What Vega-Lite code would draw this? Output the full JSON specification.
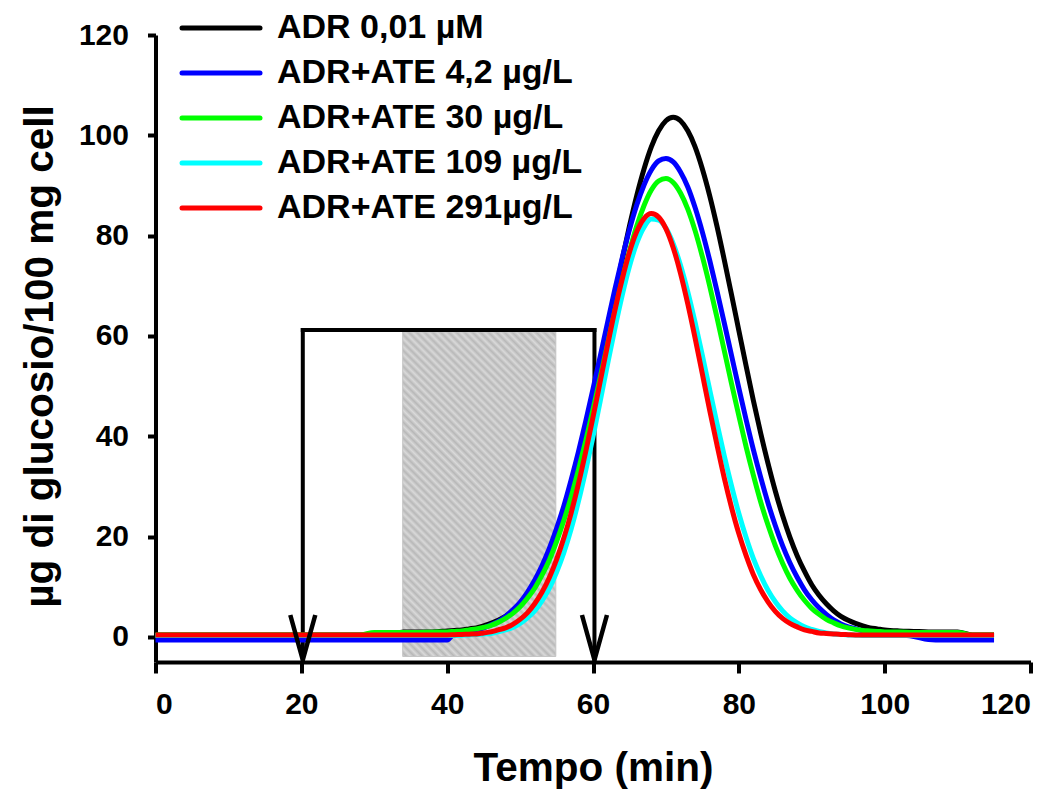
{
  "$schema": "https://vega.github.io/schema/vega-lite/v6.json",
  "width": 875,
  "height": 627,
  "autosize": {"type": "none"},
  "padding": {"left": 155.5, "top": 35, "right": 32.5, "bottom": 132},
  "background": "white",
  "config": {
    "view": {"stroke": null},
    "font": "Liberation Sans",
    "axis": {
      "domainColor": "black", "domainWidth": 4, "tickColor": "black", "tickWidth": 4,
      "labelColor": "black", "labelFont": "Liberation Sans", "labelFontWeight": "bold", "labelFontSize": 30,
      "titleColor": "black", "titleFont": "Liberation Sans", "titleFontWeight": "bold", "titleFontSize": 40.5,
      "grid": false
    },
    "legend": {
      "orient": "none", "legendX": 48.5, "legendY": -24, "padding": 0,
      "symbolType": "M-4.875,0L4.875,0", "symbolSize": 256, "symbolStrokeWidth": 5,
      "labelFont": "Liberation Sans", "labelFontSize": 34, "labelFontWeight": "bold", "labelColor": "black",
      "labelOffset": 39, "rowPadding": 11, "labelLimit": 0
    }
  },
  "datasets": {
    "curves": [
      {"t": 0, "a": 0.4, "b": -0.6, "c": 0.4, "d": 0.3, "e": 0.4},
      {"t": 5, "a": 0.4, "b": -0.6, "c": 0.4, "d": 0.3, "e": 0.4},
      {"t": 10, "a": 0.4, "b": -0.6, "c": 0.4, "d": 0.3, "e": 0.4},
      {"t": 15, "a": 0.4, "b": -0.6, "c": 0.4, "d": 0.3, "e": 0.4},
      {"t": 20, "a": 0.4, "b": -0.6, "c": 0.4, "d": 0.3, "e": 0.4},
      {"t": 25, "a": 0.4, "b": -0.6, "c": 0.4, "d": 0.3, "e": 0.4},
      {"t": 28, "a": 0.4, "b": -0.6, "c": 0.4, "d": 0.3, "e": 0.4},
      {"t": 30, "a": 0.4, "b": -0.6, "c": 0.9, "d": 0.3, "e": 0.4},
      {"t": 32, "a": 0.4, "b": -0.6, "c": 0.9, "d": 0.3, "e": 0.4},
      {"t": 34, "a": 1.0, "b": -0.6, "c": 0.9, "d": 0.3, "e": 0.4},
      {"t": 36, "a": 1.0, "b": -0.6, "c": 0.9, "d": 0.3, "e": 0.4},
      {"t": 38, "a": 1.0, "b": -0.6, "c": 0.95, "d": 0.3, "e": 0.4},
      {"t": 40, "a": 1.2, "b": -0.6, "c": 1.0, "d": 0.3, "e": 0.4},
      {"t": 41, "a": 1.3, "b": 0.7, "c": 1.1, "d": 0.3, "e": 0.45},
      {"t": 42, "a": 1.4, "b": 0.9, "c": 1.2, "d": 0.35, "e": 0.5},
      {"t": 43, "a": 1.6, "b": 1.1, "c": 1.4, "d": 0.4, "e": 0.55},
      {"t": 44, "a": 1.8, "b": 1.4, "c": 1.6, "d": 0.5, "e": 0.6},
      {"t": 45, "a": 2.2, "b": 1.8, "c": 1.9, "d": 0.6, "e": 0.8},
      {"t": 46, "a": 2.7, "b": 2.4, "c": 2.3, "d": 0.7, "e": 1.0},
      {"t": 47, "a": 3.3, "b": 3.1, "c": 2.9, "d": 1.0, "e": 1.4},
      {"t": 48, "a": 4.1, "b": 4.1, "c": 3.7, "d": 1.4, "e": 1.8},
      {"t": 49, "a": 5.2, "b": 5.4, "c": 4.7, "d": 1.9, "e": 2.5},
      {"t": 50, "a": 6.6, "b": 6.9, "c": 6.0, "d": 2.7, "e": 3.5},
      {"t": 51, "a": 8.3, "b": 8.9, "c": 7.7, "d": 3.8, "e": 4.8},
      {"t": 52, "a": 10.4, "b": 11.3, "c": 9.7, "d": 5.2, "e": 6.6},
      {"t": 53, "a": 13.1, "b": 14.2, "c": 12.3, "d": 7.2, "e": 8.9},
      {"t": 54, "a": 16.2, "b": 17.6, "c": 15.3, "d": 9.7, "e": 11.8},
      {"t": 55, "a": 19.9, "b": 21.6, "c": 19.0, "d": 12.9, "e": 15.4},
      {"t": 56, "a": 24.2, "b": 26.1, "c": 23.2, "d": 16.8, "e": 19.7},
      {"t": 57, "a": 29.1, "b": 31.3, "c": 27.9, "d": 21.5, "e": 24.7},
      {"t": 58, "a": 34.6, "b": 36.9, "c": 33.3, "d": 27.0, "e": 30.5},
      {"t": 59, "a": 40.6, "b": 43.0, "c": 39.1, "d": 33.2, "e": 36.9},
      {"t": 60, "a": 47.1, "b": 49.4, "c": 45.3, "d": 39.9, "e": 43.8},
      {"t": 61, "a": 54.0, "b": 56.0, "c": 51.8, "d": 47.1, "e": 51.0},
      {"t": 62, "a": 61.1, "b": 62.7, "c": 58.4, "d": 54.4, "e": 58.2},
      {"t": 63, "a": 68.2, "b": 69.3, "c": 65.0, "d": 61.5, "e": 65.1},
      {"t": 64, "a": 75.2, "b": 75.5, "c": 71.2, "d": 68.1, "e": 71.3},
      {"t": 65, "a": 81.9, "b": 81.2, "c": 76.9, "d": 73.9, "e": 76.7},
      {"t": 66, "a": 88.0, "b": 86.1, "c": 81.9, "d": 78.5, "e": 80.8},
      {"t": 67, "a": 93.3, "b": 90.1, "c": 86.0, "d": 81.7, "e": 83.4},
      {"t": 68, "a": 97.7, "b": 93.1, "c": 89.1, "d": 83.3, "e": 84.4},
      {"t": 69, "a": 100.9, "b": 94.9, "c": 90.9, "d": 83.1, "e": 83.7},
      {"t": 70, "a": 102.9, "b": 95.4, "c": 91.4, "d": 81.5, "e": 81.4},
      {"t": 71, "a": 103.6, "b": 94.7, "c": 90.6, "d": 78.4, "e": 77.6},
      {"t": 72, "a": 102.9, "b": 92.7, "c": 88.5, "d": 74.1, "e": 72.5},
      {"t": 73, "a": 100.9, "b": 89.7, "c": 85.3, "d": 68.8, "e": 66.4},
      {"t": 74, "a": 97.7, "b": 85.6, "c": 81.0, "d": 62.7, "e": 59.6},
      {"t": 75, "a": 93.3, "b": 80.7, "c": 75.8, "d": 56.1, "e": 52.4},
      {"t": 76, "a": 88.0, "b": 75.1, "c": 70.0, "d": 49.3, "e": 45.2},
      {"t": 77, "a": 81.9, "b": 69.0, "c": 63.7, "d": 42.6, "e": 38.3},
      {"t": 78, "a": 75.2, "b": 62.6, "c": 57.1, "d": 36.1, "e": 31.7},
      {"t": 79, "a": 68.2, "b": 56.1, "c": 50.5, "d": 30.1, "e": 25.8},
      {"t": 80, "a": 61.1, "b": 49.6, "c": 44.1, "d": 24.6, "e": 20.6},
      {"t": 81, "a": 54.0, "b": 43.3, "c": 37.9, "d": 19.8, "e": 16.2},
      {"t": 82, "a": 47.1, "b": 37.3, "c": 32.2, "d": 15.6, "e": 12.4},
      {"t": 83, "a": 40.6, "b": 31.8, "c": 26.9, "d": 12.2, "e": 9.4},
      {"t": 84, "a": 34.6, "b": 26.7, "c": 22.3, "d": 9.3, "e": 7.0},
      {"t": 85, "a": 29.1, "b": 22.2, "c": 18.2, "d": 7.0, "e": 5.1},
      {"t": 86, "a": 24.2, "b": 18.2, "c": 14.7, "d": 5.2, "e": 3.7},
      {"t": 87, "a": 19.9, "b": 14.8, "c": 11.7, "d": 3.8, "e": 2.7},
      {"t": 88, "a": 16.2, "b": 11.9, "c": 9.3, "d": 2.8, "e": 2.0},
      {"t": 89, "a": 13.1, "b": 9.4, "c": 7.3, "d": 2.0, "e": 1.4},
      {"t": 90, "a": 10.4, "b": 7.4, "c": 5.7, "d": 1.5, "e": 1.1},
      {"t": 91, "a": 8.3, "b": 5.8, "c": 4.5, "d": 1.1, "e": 0.8},
      {"t": 92, "a": 6.6, "b": 4.5, "c": 3.5, "d": 0.8, "e": 0.7},
      {"t": 93, "a": 5.2, "b": 3.4, "c": 2.8, "d": 0.6, "e": 0.6},
      {"t": 94, "a": 4.1, "b": 2.6, "c": 2.2, "d": 0.5, "e": 0.5},
      {"t": 95, "a": 3.3, "b": 2.0, "c": 1.8, "d": 0.4, "e": 0.45},
      {"t": 96, "a": 2.7, "b": 1.6, "c": 1.5, "d": 0.35, "e": 0.4},
      {"t": 97, "a": 2.2, "b": 1.2, "c": 1.3, "d": 0.3, "e": 0.4},
      {"t": 98, "a": 1.8, "b": 1.0, "c": 1.2, "d": 0.3, "e": 0.4},
      {"t": 99, "a": 1.6, "b": 0.8, "c": 1.1, "d": 0.3, "e": 0.4},
      {"t": 100, "a": 1.4, "b": 0.7, "c": 1.0, "d": 0.3, "e": 0.4},
      {"t": 102, "a": 1.2, "b": 0.4, "c": 1.0, "d": 0.3, "e": 0.4},
      {"t": 104, "a": 1.1, "b": 0.1, "c": 0.9, "d": 0.3, "e": 0.4},
      {"t": 106, "a": 1.0, "b": -0.5, "c": 0.9, "d": 0.3, "e": 0.4},
      {"t": 108, "a": 1.0, "b": -0.6, "c": 0.9, "d": 0.3, "e": 0.4},
      {"t": 110, "a": 1.0, "b": -0.6, "c": 0.9, "d": 0.3, "e": 0.4},
      {"t": 112, "a": 0.4, "b": -0.6, "c": 0.4, "d": 0.3, "e": 0.4},
      {"t": 115, "a": 0.4, "b": -0.6, "c": 0.4, "d": 0.3, "e": 0.4}
    ],
    "zone": [{"from": 33.9, "to": 54.9, "low": -3.9, "high": 60.8}],
    "bracket": [
      {"x1": 20.2, "x2": 20.2, "y1": 61.2, "y2": -4.5},
      {"x1": 60.2, "x2": 60.2, "y1": 61.2, "y2": -4.5},
      {"x1": 20.2, "x2": 60.2, "y1": 61.2, "y2": 61.2}
    ],
    "arrows": [{"x": 20.2, "y": -4.6}, {"x": 60.2, "y": -4.6}]
  },
  "layer": [
    {
      "data": {"name": "zone"},
      "mark": {
        "type": "rect", "stroke": "#c4c4c4", "strokeWidth": 1,
        "fill": {
          "gradient": "linear", "x1": 0, "y1": 1, "x2": 0.5676, "y2": -0.204,
          "stops": [
            {"offset": 0, "color": "#d9d9d9"}, {"offset": 0.00833, "color": "#b8b8b8"}, {"offset": 0.01667, "color": "#d9d9d9"}, {"offset": 0.025, "color": "#b8b8b8"},
            {"offset": 0.03333, "color": "#d9d9d9"}, {"offset": 0.04167, "color": "#b8b8b8"}, {"offset": 0.05, "color": "#d9d9d9"}, {"offset": 0.05833, "color": "#b8b8b8"},
            {"offset": 0.06667, "color": "#d9d9d9"}, {"offset": 0.075, "color": "#b8b8b8"}, {"offset": 0.08333, "color": "#d9d9d9"}, {"offset": 0.09167, "color": "#b8b8b8"},
            {"offset": 0.1, "color": "#d9d9d9"}, {"offset": 0.10833, "color": "#b8b8b8"}, {"offset": 0.11667, "color": "#d9d9d9"}, {"offset": 0.125, "color": "#b8b8b8"},
            {"offset": 0.13333, "color": "#d9d9d9"}, {"offset": 0.14167, "color": "#b8b8b8"}, {"offset": 0.15, "color": "#d9d9d9"}, {"offset": 0.15833, "color": "#b8b8b8"},
            {"offset": 0.16667, "color": "#d9d9d9"}, {"offset": 0.175, "color": "#b8b8b8"}, {"offset": 0.18333, "color": "#d9d9d9"}, {"offset": 0.19167, "color": "#b8b8b8"},
            {"offset": 0.2, "color": "#d9d9d9"}, {"offset": 0.20833, "color": "#b8b8b8"}, {"offset": 0.21667, "color": "#d9d9d9"}, {"offset": 0.225, "color": "#b8b8b8"},
            {"offset": 0.23333, "color": "#d9d9d9"}, {"offset": 0.24167, "color": "#b8b8b8"}, {"offset": 0.25, "color": "#d9d9d9"}, {"offset": 0.25833, "color": "#b8b8b8"},
            {"offset": 0.26667, "color": "#d9d9d9"}, {"offset": 0.275, "color": "#b8b8b8"}, {"offset": 0.28333, "color": "#d9d9d9"}, {"offset": 0.29167, "color": "#b8b8b8"},
            {"offset": 0.3, "color": "#d9d9d9"}, {"offset": 0.30833, "color": "#b8b8b8"}, {"offset": 0.31667, "color": "#d9d9d9"}, {"offset": 0.325, "color": "#b8b8b8"},
            {"offset": 0.33333, "color": "#d9d9d9"}, {"offset": 0.34167, "color": "#b8b8b8"}, {"offset": 0.35, "color": "#d9d9d9"}, {"offset": 0.35833, "color": "#b8b8b8"},
            {"offset": 0.36667, "color": "#d9d9d9"}, {"offset": 0.375, "color": "#b8b8b8"}, {"offset": 0.38333, "color": "#d9d9d9"}, {"offset": 0.39167, "color": "#b8b8b8"},
            {"offset": 0.4, "color": "#d9d9d9"}, {"offset": 0.40833, "color": "#b8b8b8"}, {"offset": 0.41667, "color": "#d9d9d9"}, {"offset": 0.425, "color": "#b8b8b8"},
            {"offset": 0.43333, "color": "#d9d9d9"}, {"offset": 0.44167, "color": "#b8b8b8"}, {"offset": 0.45, "color": "#d9d9d9"}, {"offset": 0.45833, "color": "#b8b8b8"},
            {"offset": 0.46667, "color": "#d9d9d9"}, {"offset": 0.475, "color": "#b8b8b8"}, {"offset": 0.48333, "color": "#d9d9d9"}, {"offset": 0.49167, "color": "#b8b8b8"},
            {"offset": 0.5, "color": "#d9d9d9"}, {"offset": 0.50833, "color": "#b8b8b8"}, {"offset": 0.51667, "color": "#d9d9d9"}, {"offset": 0.525, "color": "#b8b8b8"},
            {"offset": 0.53333, "color": "#d9d9d9"}, {"offset": 0.54167, "color": "#b8b8b8"}, {"offset": 0.55, "color": "#d9d9d9"}, {"offset": 0.55833, "color": "#b8b8b8"},
            {"offset": 0.56667, "color": "#d9d9d9"}, {"offset": 0.575, "color": "#b8b8b8"}, {"offset": 0.58333, "color": "#d9d9d9"}, {"offset": 0.59167, "color": "#b8b8b8"},
            {"offset": 0.6, "color": "#d9d9d9"}, {"offset": 0.60833, "color": "#b8b8b8"}, {"offset": 0.61667, "color": "#d9d9d9"}, {"offset": 0.625, "color": "#b8b8b8"},
            {"offset": 0.63333, "color": "#d9d9d9"}, {"offset": 0.64167, "color": "#b8b8b8"}, {"offset": 0.65, "color": "#d9d9d9"}, {"offset": 0.65833, "color": "#b8b8b8"},
            {"offset": 0.66667, "color": "#d9d9d9"}, {"offset": 0.675, "color": "#b8b8b8"}, {"offset": 0.68333, "color": "#d9d9d9"}, {"offset": 0.69167, "color": "#b8b8b8"},
            {"offset": 0.7, "color": "#d9d9d9"}, {"offset": 0.70833, "color": "#b8b8b8"}, {"offset": 0.71667, "color": "#d9d9d9"}, {"offset": 0.725, "color": "#b8b8b8"},
            {"offset": 0.73333, "color": "#d9d9d9"}, {"offset": 0.74167, "color": "#b8b8b8"}, {"offset": 0.75, "color": "#d9d9d9"}, {"offset": 0.75833, "color": "#b8b8b8"},
            {"offset": 0.76667, "color": "#d9d9d9"}, {"offset": 0.775, "color": "#b8b8b8"}, {"offset": 0.78333, "color": "#d9d9d9"}, {"offset": 0.79167, "color": "#b8b8b8"},
            {"offset": 0.8, "color": "#d9d9d9"}, {"offset": 0.80833, "color": "#b8b8b8"}, {"offset": 0.81667, "color": "#d9d9d9"}, {"offset": 0.825, "color": "#b8b8b8"},
            {"offset": 0.83333, "color": "#d9d9d9"}, {"offset": 0.84167, "color": "#b8b8b8"}, {"offset": 0.85, "color": "#d9d9d9"}, {"offset": 0.85833, "color": "#b8b8b8"},
            {"offset": 0.86667, "color": "#d9d9d9"}, {"offset": 0.875, "color": "#b8b8b8"}, {"offset": 0.88333, "color": "#d9d9d9"}, {"offset": 0.89167, "color": "#b8b8b8"},
            {"offset": 0.9, "color": "#d9d9d9"}, {"offset": 0.90833, "color": "#b8b8b8"}, {"offset": 0.91667, "color": "#d9d9d9"}, {"offset": 0.925, "color": "#b8b8b8"},
            {"offset": 0.93333, "color": "#d9d9d9"}, {"offset": 0.94167, "color": "#b8b8b8"}, {"offset": 0.95, "color": "#d9d9d9"}, {"offset": 0.95833, "color": "#b8b8b8"},
            {"offset": 0.96667, "color": "#d9d9d9"}, {"offset": 0.975, "color": "#b8b8b8"}, {"offset": 0.98333, "color": "#d9d9d9"}, {"offset": 0.99167, "color": "#b8b8b8"},
            {"offset": 1, "color": "#d9d9d9"}
          ]
        }
      },
      "encoding": {
        "x": {"field": "from", "type": "quantitative", "scale": {"domain": [0, 120], "nice": false, "zero": false},
              "axis": {"title": "Tempo (min)", "values": [0, 20, 40, 60, 80, 100, 120], "tickSize": 11, "labelPadding": 16,
                       "titleX": 437.5, "titleY": 106, "titleBaseline": "middle"}},
        "x2": {"field": "to"},
        "y": {"field": "low", "type": "quantitative", "scale": {"domain": [-5, 120], "nice": false, "zero": false},
              "axis": {"title": "µg di glucosio/100 mg cell", "values": [0, 20, 40, 60, 80, 100, 120], "tickSize": 8, "labelPadding": 19,
                       "titleX": -115, "titleY": 321, "titleBaseline": "middle", "titleAngle": 270}},
        "y2": {"field": "high"}
      }
    },
    {
      "data": {"name": "bracket"},
      "mark": {"type": "rule", "color": "black", "strokeWidth": 4, "strokeCap": "square"},
      "encoding": {
        "x": {"field": "x1", "type": "quantitative", "scale": {"domain": [0, 120], "nice": false, "zero": false}},
        "x2": {"field": "x2"},
        "y": {"field": "y1", "type": "quantitative", "scale": {"domain": [-5, 120], "nice": false, "zero": false}},
        "y2": {"field": "y2"}
      }
    },
    {
      "data": {"name": "curves"},
      "transform": [{"fold": ["a", "b", "c", "d", "e"], "as": ["serie", "val"]}],
      "mark": {"type": "line", "strokeWidth": 5, "interpolate": "monotone"},
      "encoding": {
        "x": {"field": "t", "type": "quantitative", "scale": {"domain": [0, 120], "nice": false, "zero": false}},
        "y": {"field": "val", "type": "quantitative", "scale": {"domain": [-5, 120], "nice": false, "zero": false}},
        "color": {
          "field": "serie", "type": "nominal",
          "scale": {"domain": ["a", "b", "c", "d", "e"], "range": ["#000000", "#0000ff", "#00ff00", "#00ffff", "#ff0000"]},
          "legend": {
            "title": null,
            "encode": {"symbols": {"update": {"strokeCap": {"value": "round"}}}},
            "labelExpr": "datum.label == 'a' ? 'ADR 0,01 µM' : datum.label == 'b' ? 'ADR+ATE 4,2 µg/L' : datum.label == 'c' ? 'ADR+ATE 30 µg/L' : datum.label == 'd' ? 'ADR+ATE 109 µg/L' : 'ADR+ATE 291µg/L'"
          }
        }
      }
    },
    {
      "data": {"name": "arrows"},
      "mark": {"type": "point", "shape": "M-0.5,-1.8L0,0L0.5,-1.8", "size": 2500, "filled": false, "stroke": "black", "strokeWidth": 4.5, "strokeJoin": "round", "opacity": 1},
      "encoding": {
        "x": {"field": "x", "type": "quantitative", "scale": {"domain": [0, 120], "nice": false, "zero": false}},
        "y": {"field": "y", "type": "quantitative", "scale": {"domain": [-5, 120], "nice": false, "zero": false}}
      }
    }
  ]
}
